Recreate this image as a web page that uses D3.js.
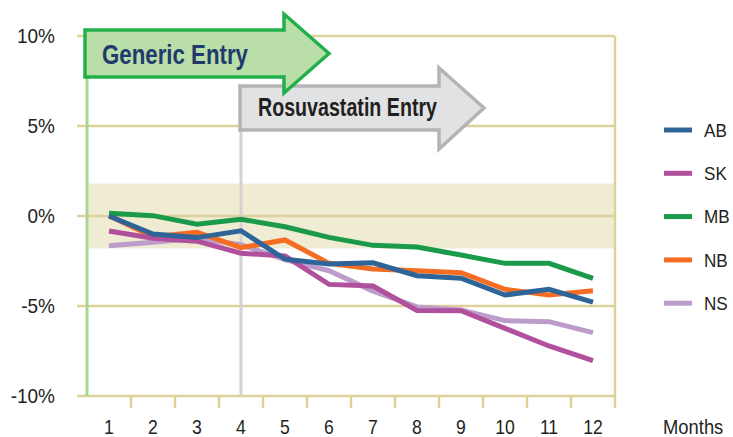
<!DOCTYPE html>
<html>
<head>
<meta charset="utf-8">
<script src="https://cdn.jsdelivr.net/npm/d3@7"></script>
<style>
  body { margin: 0; background: #fff; }
  svg { display: block; }
  text { font-family: "Liberation Sans", Arial, sans-serif; }
</style>
</head>
<body>
<div id="chart"></div>
<script>
const months = [1, 2, 3, 4, 5, 6, 7, 8, 9, 10, 11, 12];
const yTicks = [10, 5, 0, -5, -10];
const provinces = ["AB", "SK", "MB", "NB", "NS"];
const colors = ["#2f6499", "#b1509c", "#1b9a4a", "#f46d22", "#bb9cca"];

// % change by month
const valuesAB = [0.0, -1.0, -1.2, -0.82, -2.4, -2.67, -2.6, -3.32, -3.46, -4.39, -4.07, -4.78];
const valuesSK = [-0.83, -1.24, -1.4, -2.07, -2.22, -3.8, -3.89, -5.25, -5.26, -6.24, -7.22, -8.04];
const valuesMB = [0.15, 0.02, -0.46, -0.18, -0.6, -1.19, -1.63, -1.72, -2.17, -2.63, -2.63, -3.46];
const valuesNB = [0.02, -1.15, -0.9, -1.76, -1.33, -2.63, -2.94, -3.04, -3.15, -4.07, -4.39, -4.15];
const valuesNS = [-1.65, -1.46, -1.24, -1.6, -2.42, -3.04, -4.17, -5.05, -5.22, -5.81, -5.87, -6.48];

const bandRange = [1.8, -1.8];
const genericMonth = 1;
const rosuMonth = 4;

const series = [
  { name: "AB", values: valuesAB },
  { name: "SK", values: valuesSK },
  { name: "MB", values: valuesMB },
  { name: "NB", values: valuesNB },
  { name: "NS", values: valuesNS }
];

const width = 733, height = 437;
const svg = d3.select("#chart").append("svg")
  .attr("width", width)
  .attr("height", height);

const x = d3.scaleBand().domain(months).range([87, 615]).padding(0);
const y = d3.scaleLinear().domain([-10, 10]).range([396, 36]);
const color = d3.scaleOrdinal().domain(provinces).range(colors);
const cx = m => x(m) + x.bandwidth() / 2;

const grid = "#ddd29c";
const ink = "#231f20";

// shaded band around zero
svg.append("rect")
  .attr("x", x.range()[0])
  .attr("y", y(bandRange[0]))
  .attr("width", x.range()[1] - x.range()[0])
  .attr("height", y(bandRange[1]) - y(bandRange[0]))
  .attr("fill", "#f0ebd3");

// gridlines
svg.append("g")
  .selectAll("line")
  .data(yTicks)
  .join("line")
  .attr("x1", 77)
  .attr("x2", x.range()[1])
  .attr("y1", d => y(d))
  .attr("y2", d => y(d))
  .attr("stroke", grid)
  .attr("stroke-width", 2.5);

// right border
svg.append("line")
  .attr("x1", x.range()[1]).attr("x2", x.range()[1])
  .attr("y1", y(10)).attr("y2", y(-10))
  .attr("stroke", grid).attr("stroke-width", 2.5);

// x ticks at band edges
const edges = months.map(m => x(m) + x.bandwidth());
svg.append("g")
  .selectAll("line")
  .data(edges)
  .join("line")
  .attr("x1", d => d).attr("x2", d => d)
  .attr("y1", y(-10)).attr("y2", y(-10) + 12)
  .attr("stroke", grid).attr("stroke-width", 2.5);

// y labels
svg.append("g")
  .selectAll("text")
  .data(yTicks)
  .join("text")
  .attr("transform", d => `translate(55,${y(d)}) scale(0.95,1)`)
  .attr("dy", "0.36em")
  .attr("text-anchor", "end")
  .attr("font-size", 20)
  .attr("fill", ink)
  .text(d => d + "%");

// x labels
svg.append("g")
  .selectAll("text")
  .data(months)
  .join("text")
  .attr("transform", d => `translate(${cx(d)},434) scale(0.88,1)`)
  .attr("text-anchor", "middle")
  .attr("font-size", 20)
  .attr("fill", ink)
  .text(d => d);

svg.append("text")
  .attr("transform", "translate(663,434) scale(0.92,1)")
  .attr("font-size", 20)
  .attr("fill", ink)
  .text("Months");

// entry markers
svg.append("line")
  .attr("x1", x(genericMonth)).attr("x2", x(genericMonth))
  .attr("y1", y(10)).attr("y2", y(-10))
  .attr("stroke", "#a6d98f").attr("stroke-width", 3);

svg.append("line")
  .attr("x1", cx(rosuMonth)).attr("x2", cx(rosuMonth))
  .attr("y1", 130).attr("y2", y(-10))
  .attr("stroke", "#d3d3d5").attr("stroke-width", 3);

// data lines
const line = d3.line()
  .x((d, i) => cx(months[i]))
  .y(d => y(d));

const drawOrder = ["NS", "NB", "MB", "SK", "AB"];
svg.append("g")
  .selectAll("path")
  .data(drawOrder.map(n => series.find(s => s.name === n)))
  .join("path")
  .attr("d", d => line(d.values))
  .attr("fill", "none")
  .attr("stroke", d => color(d.name))
  .attr("stroke-width", 5)
  .attr("stroke-linejoin", "miter");

// arrows
function arrow(x0, yTop, yBot, neck, headTop, headBot, tip) {
  const mid = (yTop + yBot) / 2;
  return `M${x0},${yTop}L${neck},${yTop}L${neck},${headTop}L${tip},${mid}` +
    `L${neck},${headBot}L${neck},${yBot}L${x0},${yBot}Z`;
}

const rx = cx(rosuMonth) - 1;
svg.append("path")
  .attr("d", arrow(rx, 86, 130, 439, 68, 149, 484))
  .attr("fill", "#e1e2e4")
  .attr("stroke", "#b4b4b6")
  .attr("stroke-width", 3.5)
  .attr("stroke-linejoin", "miter");

svg.append("text")
  .attr("x", 258)
  .attr("y", 116)
  .attr("font-size", 26)
  .attr("font-weight", "bold")
  .attr("fill", ink)
  .attr("textLength", 179)
  .attr("lengthAdjust", "spacingAndGlyphs")
  .text("Rosuvastatin Entry");

const gx = x(genericMonth) - 2;
svg.append("path")
  .attr("d", arrow(gx, 30, 77, 284, 14, 93, 329))
  .attr("fill", "#b9dea8")
  .attr("stroke", "#22b04b")
  .attr("stroke-width", 3.5)
  .attr("stroke-linejoin", "miter");

svg.append("text")
  .attr("x", 102)
  .attr("y", 64)
  .attr("font-size", 28)
  .attr("font-weight", "bold")
  .attr("fill", "#1f3a6c")
  .attr("textLength", 146)
  .attr("lengthAdjust", "spacingAndGlyphs")
  .text("Generic Entry");

// legend
const legend = svg.append("g")
  .selectAll("g")
  .data(provinces)
  .join("g")
  .attr("transform", (d, i) => `translate(664, ${130 + i * 43.3})`);

legend.append("line")
  .attr("x1", 0).attr("x2", 28)
  .attr("stroke", d => color(d))
  .attr("stroke-width", 5);

legend.append("text")
  .attr("transform", "translate(40,0) scale(0.9,1)")
  .attr("dy", "0.36em")
  .attr("font-size", 19)
  .attr("fill", ink)
  .text(d => d);
</script>
</body>
</html>
